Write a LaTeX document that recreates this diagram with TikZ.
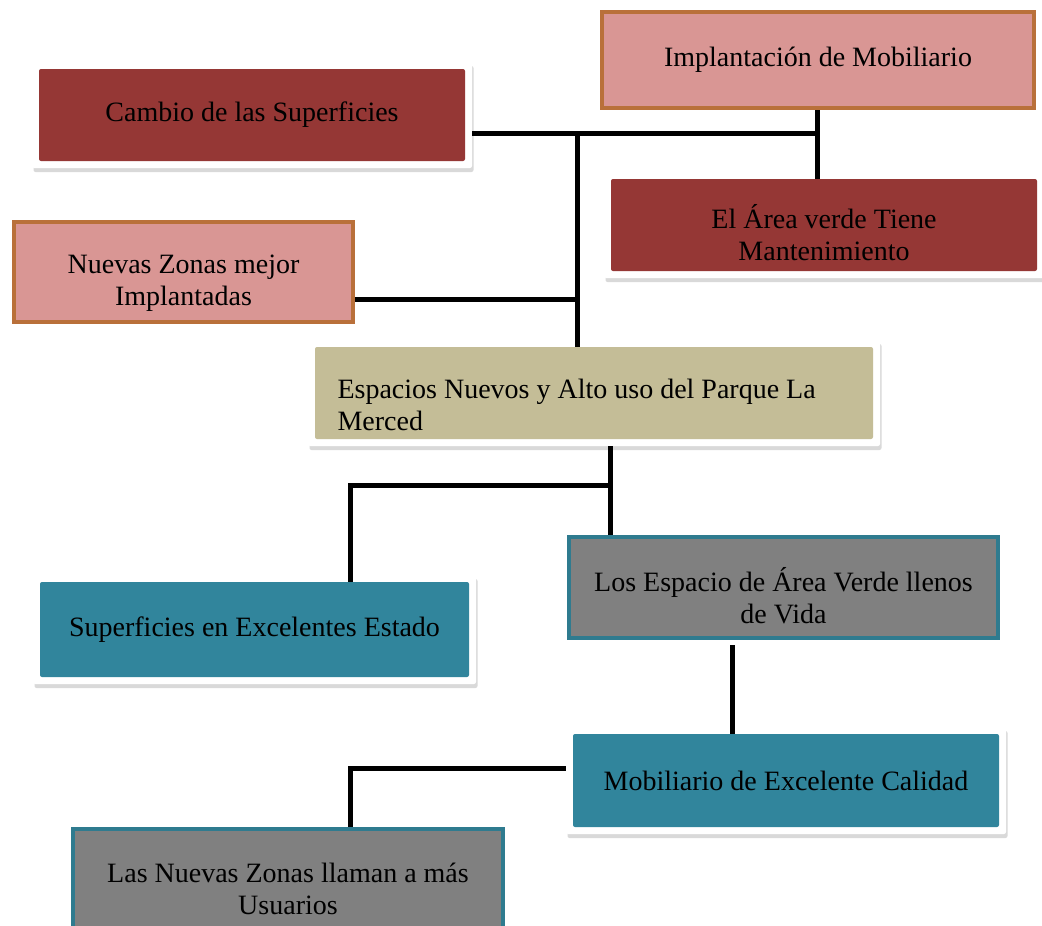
\documentclass[tikz,border=0pt]{standalone}
\usepackage{fontspec}
\setmainfont{Liberation Serif}
\usepackage{xcolor}
\usetikzlibrary{shadows}

\definecolor{brick}{HTML}{953735}
\definecolor{rose}{HTML}{D99694}
\definecolor{copper}{HTML}{B9703A}
\definecolor{khaki}{HTML}{C4BD97}
\definecolor{sea}{HTML}{31859C}
\definecolor{seadark}{HTML}{2F7B8F}
\definecolor{slate}{HTML}{808080}

\begin{document}
\begin{tikzpicture}[
      x=1pt, y=-1pt,
      link/.style={line width=5pt, draw=black},
      txt/.style={font=\fontsize{28}{32}\selectfont, text=black, align=center, inner sep=0pt},
      framed/.style={txt, fill=white, rounded corners=2pt,
        drop shadow={shadow xshift=1.5pt, shadow yshift=-4pt, opacity=0.3},
        path picture={\fill[#1] ([shift={(7pt,-7pt)}]path picture bounding box.north west)
          rectangle ([shift={(-7pt,7pt)}]path picture bounding box.south east);}},
      edged/.style 2 args={txt, fill=#1, draw=#2, line width=4pt},
      twoline/.style={text height=72pt}]
    \useasboundingbox (0,0) rectangle (1042,926);

    \node[framed=brick, minimum width=440pt, minimum height=106pt] (cambio) at (252,115) {Cambio de las Superficies};
    \node[edged={rose}{copper}, minimum width=432pt, minimum height=96pt] (implant) at (818,60) {Implantación de Mobiliario};
    \node[framed=brick, twoline, minimum width=440pt, minimum height=106pt] (area) at (824,225) {El Área verde Tiene\\Mantenimiento};
    \node[edged={rose}{copper}, twoline, minimum width=339pt, minimum height=100pt] (zonas) at (183.5,272) {Nuevas Zonas mejor\\Implantadas};
    \node[framed=khaki, align=flush left, text width=513pt, inner xsep=29.5pt, text height=44pt,
      minimum width=572pt, minimum height=106pt] (espacios) at (594,393) {Espacios Nuevos y Alto uso del Parque La\\Merced};
    \node[framed=sea, minimum width=443pt, minimum height=109pt] (superf) at (254.5,629.5) {Superficies en Excelentes Estado};
    \node[edged={slate}{seadark}, twoline, minimum width=429pt, minimum height=101pt] (vida) at (783.5,587.5) {Los Espacio de Área Verde llenos\\de Vida};
    \node[framed=sea, minimum width=440pt, minimum height=107pt] (mobil) at (786,780.5) {Mobiliario de Excelente Calidad};
    \node[edged={slate}{seadark}, twoline, minimum width=430pt, minimum height=101pt] (usuarios) at (288,879) {Las Nuevas Zonas llaman a más\\Usuarios};

    \coordinate (hub) at (577,133);
    \coordinate (hubr) at (817,133);
    \coordinate (hubz) at (577,299);
    \coordinate (fork) at (610,485);
    \coordinate (forkl) at (350,485);
    \coordinate (drop) at (732,645);
    \coordinate (bend) at (350,768);

    \draw[link] (cambio.east |- hub) -- (hubr);
    \draw[link, shorten >=-7pt] (implant.south -| hubr) -- (area.north -| hubr);
    \draw[link, shorten >=-7pt] (hub) -- (hub |- espacios.north);
    \draw[link] (zonas.east |- hubz) -- (hubz);
    \draw[link] (espacios.south -| fork) -- (fork |- vida.north);
    \draw[link, shorten >=-7pt] (fork) -- (forkl) -- (forkl |- superf.north);
    \draw[link, shorten <=5pt, shorten >=-7pt] (vida.south -| drop) -- (drop |- mobil.north);
    \draw[link] (mobil.west |- bend) -- (bend) -- (bend |- usuarios.north);
  \end{tikzpicture}
\end{document}
